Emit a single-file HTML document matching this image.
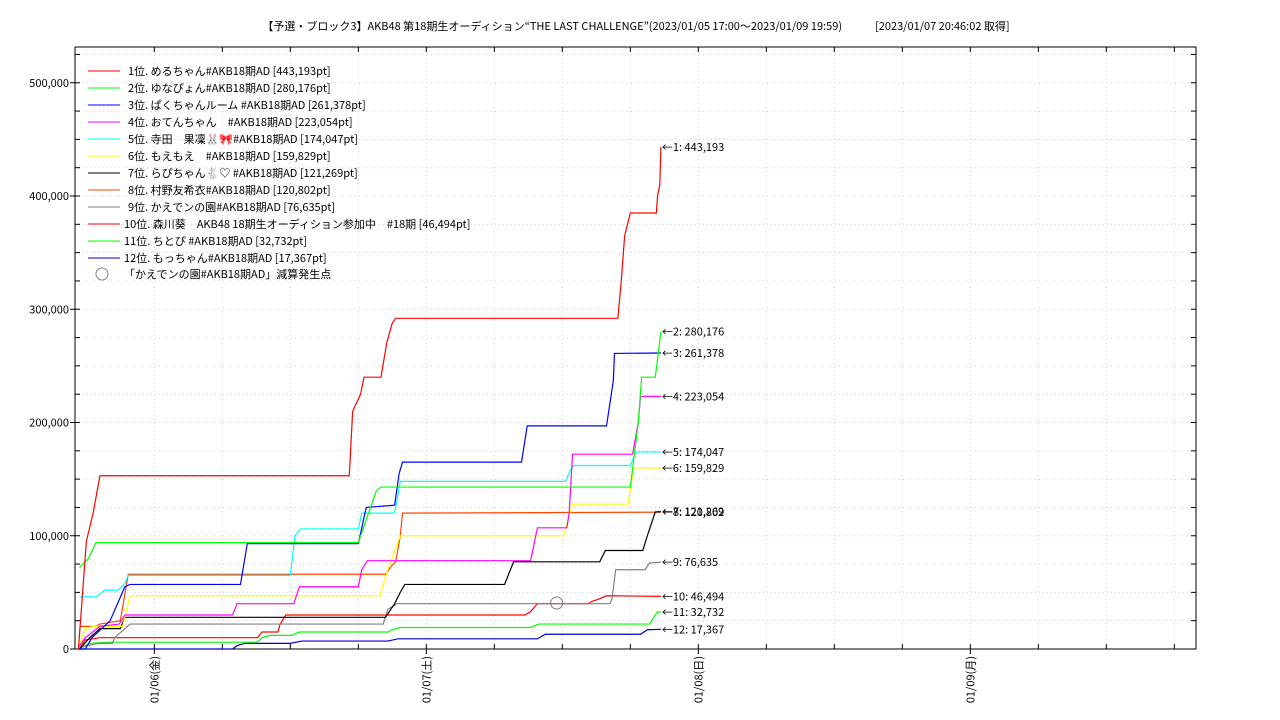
<!DOCTYPE html>
<html><head><meta charset="utf-8"><style>
body{margin:0;background:#fff;}
svg{display:block;font-family:"Noto Sans CJK JP","Liberation Sans",sans-serif;}
</style></head><body>
<svg id="chart" width="1280" height="720">
<text x="636" y="30" text-anchor="middle" font-size="11">【予選・ブロック3】AKB48 第18期生オーディション“THE LAST CHALLENGE”(2023/01/05 17:00〜2023/01/09 19:59)　　　[2023/01/07 20:46:02 取得]</text>
<g id="grid"></g>
<rect x="75" y="47" width="1121" height="602" fill="none" stroke="#000" stroke-width="1"/>
<g id="axes"></g>
<g id="series"></g>
<g id="legend"></g>
</svg>
<script>
const names=["1位. めるちゃん#AKB18期AD [443,193pt]","2位. ゆなぴょん#AKB18期AD [280,176pt]","3位. ぱくちゃんルーム #AKB18期AD [261,378pt]","4位. おてんちゃん　#AKB18期AD [223,054pt]","5位. 寺田　果凜🐰🎀#AKB18期AD [174,047pt]","6位. もえもえ　#AKB18期AD [159,829pt]","7位. らぴちゃん🐇♡ #AKB18期AD [121,269pt]","8位. 村野友希衣#AKB18期AD [120,802pt]","9位. かえでンの園#AKB18期AD [76,635pt]","10位. 森川葵　AKB48 18期生オーディション参加中　#18期 [46,494pt]","11位. ちとぴ #AKB18期AD [32,732pt]","12位. もっちゃん#AKB18期AD [17,367pt]"];
const colors=["#ff0000","#00ff00","#0000ff","#ff00ff","#00ffff","#ffff00","#000000","#ff4500","#808080","#ff0000","#00ff00","#0000cc"];
const finals=[443193,280176,261378,223054,174047,159829,121269,120802,76635,46494,32732,17367];
// [hours since 01/05 17:00, value in thousands]
const s1=[[0.3,0],[0.6,40],[1.0,95],[1.6,120],[2.2,153],[24.2,153],[24.5,210],[25.2,225],[25.5,240],[27.0,240],[27.5,270],[28.0,288],[28.3,292],[47.9,292],[48.2,325],[48.5,365],[49.0,385],[51.3,385],[51.4,400],[51.6,410],[51.7,443.2]];
const s2=[[0.4,72],[1.2,80],[1.85,94],[25.0,94],[25.9,120],[26.6,140],[27.0,143],[49.0,143],[49.7,200],[50.0,240],[51.2,240],[51.7,280.2]];
const s3=[[0.4,0],[0.9,0],[1.5,10],[3.1,25],[4.4,55],[4.85,57],[14.6,57],[15.2,93],[25.0,93],[25.7,125],[28.2,127],[28.6,155],[28.9,165],[39.4,165],[39.9,197],[46.9,197],[47.5,237],[47.6,261],[51.7,261.4]];
const s4=[[0.4,3],[0.9,10],[2.2,20],[3.9,22],[4.4,30],[13.9,30],[14.3,40],[19.3,40],[19.8,55],[25.0,55],[25.3,70],[25.8,78],[40.2,78],[40.8,107],[43.4,107],[43.6,120],[43.9,172],[49.2,172],[49.7,200],[49.9,223],[51.7,223.1]];
const s5=[[0.4,46],[1.9,46],[2.6,52],[3.8,52],[4.4,58],[4.7,65],[19.0,65],[19.4,100],[19.9,106],[25.0,106],[25.3,120],[28.2,120],[28.7,148],[43.3,148],[43.7,158],[44.0,162],[49.0,162],[49.5,174],[51.7,174.0]];
const s6=[[0.4,5],[0.9,18],[1.6,20],[4.2,20],[4.85,47],[26.9,47],[27.6,70],[28.7,100],[43.1,100],[43.9,128],[48.8,128],[49.3,160],[51.7,159.8]];
const s7=[[0.4,0],[1.3,10],[2.2,18],[4.0,18],[4.4,28],[27.4,28],[28.2,40],[28.7,50],[29.1,57],[37.9,57],[38.7,77],[46.3,77],[46.8,87],[50.1,87],[50.5,100],[51.2,121],[51.7,121.3]];
const s8=[[0.4,20],[1.85,20],[2.2,22],[4.0,25],[4.7,66],[27.4,66],[27.9,73],[28.3,77],[28.7,100],[28.9,120],[51.7,120.8]];
const s9=[[0.4,2],[2.2,5],[3.3,5],[3.5,10],[4.85,22],[27.2,22],[27.6,35],[28.4,40],[47.2,40],[47.4,45],[47.7,70],[50.3,70],[50.7,76],[51.7,76.6]];
const s10=[[0.4,0],[0.9,8],[2.2,10],[16.1,10],[16.5,15],[17.9,15],[18.1,22],[18.6,30],[39.7,30],[40.2,33],[40.8,40],[45.3,40],[45.6,42],[46.2,44],[46.9,47],[51.7,46.5]];
const s11=[[0.4,0],[1.3,5],[3.1,6],[16.1,6],[16.5,10],[17.2,12],[19.1,12],[19.8,15],[27.6,15],[28.0,17],[28.7,19],[40.2,19],[40.9,22],[50.7,22],[51.2,30],[51.4,32.7],[51.7,32.7]];
const s12=[[0.4,0],[13.9,0],[14.3,3],[15.0,5],[19.0,5],[20.0,7],[27.6,7],[28.5,9],[40.8,9],[41.5,13],[49.9,13],[50.5,17],[51.7,17.4]];
const allSeries=[s1,s2,s3,s4,s5,s6,s7,s8,s9,s10,s11,s12];
const yTicks=[0,100000,200000,300000,400000,500000];
const xTickLabels=["01/06(金)","01/07(土)","01/08(日)","01/09(月)"];
const marker=[42.5,40.6];

const NS="http://www.w3.org/2000/svg";
const X0=75,X1=1196,Y0=649,YT=47;
const pxPerHour=272/24;
const xs=h=>X0+h*pxPerHour;
const ys=v=>Y0-v*113.25/100000;
function mk(tag,attrs,parent,txt){const e=document.createElementNS(NS,tag);for(const k in attrs)e.setAttribute(k,attrs[k]);if(txt!==undefined)e.textContent=txt;parent.appendChild(e);return e;}
const grid=document.getElementById('grid'),axes=document.getElementById('axes'),ser=document.getElementById('series'),leg=document.getElementById('legend');
for(let v=25000;v<=525000;v+=25000){const y=ys(v);if(y<YT)break;
 const l=mk('line',{x1:X0,x2:X1,y1:y,y2:y,stroke:'#a8f0a8','stroke-dasharray':'1,3'},grid);
 
 mk('line',{x1:X0,x2:X0+5,y1:y,y2:y,stroke:'#000'},axes);mk('line',{x1:X1,x2:X1-5,y1:y,y2:y,stroke:'#000'},axes);}
for(let h=1;h*6*pxPerHour+X0<X1;h++){const x=xs(h*6+1);if(x>=X1)break;
 const l=mk('line',{x1:x,x2:x,y1:YT,y2:Y0,stroke:'#a8f0a8','stroke-dasharray':'1,3'},grid);
 
 mk('line',{x1:x,x2:x,y1:Y0,y2:Y0-5,stroke:'#000'},axes);mk('line',{x1:x,x2:x,y1:YT,y2:YT+5,stroke:'#000'},axes);}
yTicks.forEach(v=>{const y=ys(v);
 mk('line',{x1:X0-5,x2:X0,y1:y,y2:y,stroke:'#000'},axes);
 const t=mk('text',{x:X0-6,y:y+4,'text-anchor':'end','font-size':'11'},axes,v.toLocaleString('en-US'));
 });
xTickLabels.forEach((lab,i)=>{const x=xs(7+24*i);
 mk('line',{x1:x,x2:x,y1:Y0,y2:Y0+5,stroke:'#000'},axes);
 const t=mk('text',{x:0,y:0,'text-anchor':'end','font-size':'11',transform:`translate(${x+4},656) rotate(-90)`},axes,lab);
 });
for(let i=allSeries.length-1;i>=0;i--){const d=allSeries[i];
 const p=mk('polyline',{points:d.map(q=>xs(q[0])+','+ys(q[1]*1000)).join(' '),fill:'none',stroke:colors[i],'stroke-width':'1.2'},ser);
 
 const last=d[d.length-1];
 const t=mk('text',{x:xs(last[0])+1,y:ys(finals[i])+4,'font-size':'11'},ser,'←'+(i+1)+': '+finals[i].toLocaleString('en-US'));
 }
const c=mk('circle',{cx:xs(marker[0]),cy:ys(marker[1]*1000),r:6,fill:'none',stroke:'#808080'},ser);

names.forEach((n,i)=>{const y=71+17*i;
 mk('line',{x1:88,x2:120,y1:y,y2:y,stroke:colors[i]},leg);
 const t=mk('text',{x:i>=9?124:128,y:y+4,'font-size':'11'},leg,n);
 });
mk('circle',{cx:102,cy:274,r:6,fill:'none',stroke:'#808080'},leg);
const lt=mk('text',{x:124,y:278,'font-size':'11'},leg,'「かえでンの園#AKB18期AD」減算発生点');

</script>
</body></html>
